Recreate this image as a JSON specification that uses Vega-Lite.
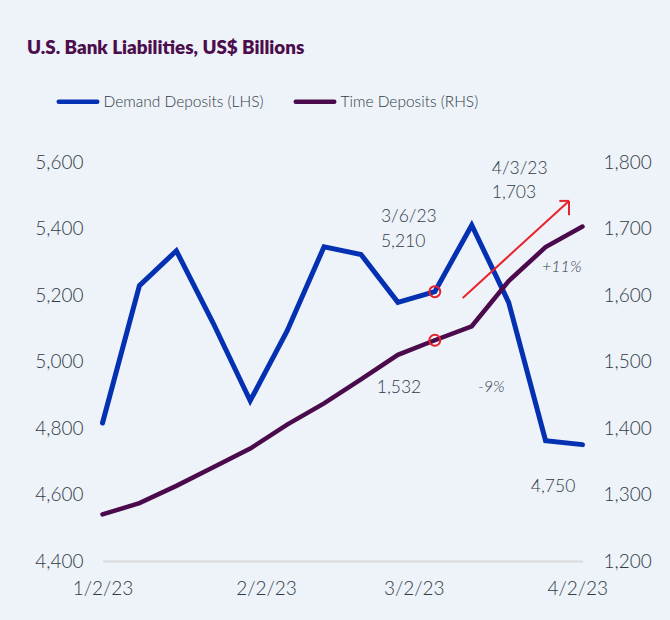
{
  "$schema": "https://vega.github.io/schema/vega-lite/v6.json",
  "width": 480,
  "height": 399,
  "autosize": {"type": "none"},
  "padding": {"left": 102.5, "top": 162, "right": 87.5, "bottom": 59},
  "background": "#EEF2F9",
  "title": {
    "text": "U.S. Bank Liabilities, US$ Billions",
    "anchor": "start",
    "frame": "group",
    "font": "Lato",
    "fontSize": 18.8,
    "fontWeight": 800,
    "color": "#4B0D4B",
    "baseline": "alphabetic",
    "dx": -75.5,
    "offset": 7
  },
  "config": {
    "view": {"stroke": null},
    "font": "Lato",
    "axis": {
      "grid": false,
      "ticks": false,
      "tickSize": 0,
      "domain": false,
      "labelFont": "Lato",
      "labelFontSize": 19,
      "labelFontWeight": 300,
      "labelColor": "#2F3B47",
      "labelFlush": false,
      "title": null
    },
    "legend": {
      "orient": "none",
      "legendX": -46,
      "legendY": -82,
      "direction": "horizontal",
      "title": null,
      "symbolType": "stroke",
      "symbolSize": 1482,
      "symbolStrokeWidth": 4.5,
      "labelFont": "Lato",
      "labelFontSize": 15.5,
      "labelFontWeight": 300,
      "labelColor": "#2F3B47",
      "labelLimit": 400,
      "labelOffset": 4,
      "columnPadding": 23,
      "padding": 0
    },
    "text": {"font": "Lato", "fontSize": 17.5, "fontWeight": 300, "color": "#2F3B47", "align": "left", "baseline": "middle"}
  },
  "datasets": {
    "demand": [
      {"date": "2023-01-02T00:00", "value": 4815, "series": "Demand Deposits (LHS)"},
      {"date": "2023-01-09T00:00", "value": 5228, "series": "Demand Deposits (LHS)"},
      {"date": "2023-01-16T00:00", "value": 5333, "series": "Demand Deposits (LHS)"},
      {"date": "2023-01-23T00:00", "value": 5115, "series": "Demand Deposits (LHS)"},
      {"date": "2023-01-30T00:00", "value": 4882, "series": "Demand Deposits (LHS)"},
      {"date": "2023-02-06T00:00", "value": 5092, "series": "Demand Deposits (LHS)"},
      {"date": "2023-02-13T00:00", "value": 5345, "series": "Demand Deposits (LHS)"},
      {"date": "2023-02-20T00:00", "value": 5322, "series": "Demand Deposits (LHS)"},
      {"date": "2023-02-27T00:00", "value": 5178, "series": "Demand Deposits (LHS)"},
      {"date": "2023-03-06T00:00", "value": 5210, "series": "Demand Deposits (LHS)"},
      {"date": "2023-03-13T00:00", "value": 5410, "series": "Demand Deposits (LHS)"},
      {"date": "2023-03-20T00:00", "value": 5178, "series": "Demand Deposits (LHS)"},
      {"date": "2023-03-27T00:00", "value": 4762, "series": "Demand Deposits (LHS)"},
      {"date": "2023-04-03T00:00", "value": 4750, "series": "Demand Deposits (LHS)"}
    ],
    "time": [
      {"date": "2023-01-02T00:00", "value": 1270, "series": "Time Deposits (RHS)"},
      {"date": "2023-01-09T00:00", "value": 1287, "series": "Time Deposits (RHS)"},
      {"date": "2023-01-16T00:00", "value": 1313, "series": "Time Deposits (RHS)"},
      {"date": "2023-01-23T00:00", "value": 1341, "series": "Time Deposits (RHS)"},
      {"date": "2023-01-30T00:00", "value": 1369, "series": "Time Deposits (RHS)"},
      {"date": "2023-02-06T00:00", "value": 1405, "series": "Time Deposits (RHS)"},
      {"date": "2023-02-13T00:00", "value": 1437, "series": "Time Deposits (RHS)"},
      {"date": "2023-02-20T00:00", "value": 1473, "series": "Time Deposits (RHS)"},
      {"date": "2023-02-27T00:00", "value": 1510, "series": "Time Deposits (RHS)"},
      {"date": "2023-03-06T00:00", "value": 1532, "series": "Time Deposits (RHS)"},
      {"date": "2023-03-13T00:00", "value": 1553, "series": "Time Deposits (RHS)"},
      {"date": "2023-03-20T00:00", "value": 1621, "series": "Time Deposits (RHS)"},
      {"date": "2023-03-27T00:00", "value": 1672, "series": "Time Deposits (RHS)"},
      {"date": "2023-04-03T00:00", "value": 1703, "series": "Time Deposits (RHS)"}
    ],
    "labels": [
      {"date": "2023-02-23T19:00", "value": 5435, "label": "3/6/23"},
      {"date": "2023-02-23T19:00", "value": 5359, "label": "5,210"},
      {"date": "2023-03-16T19:00", "value": 5578, "label": "4/3/23"},
      {"date": "2023-03-16T19:00", "value": 5506, "label": "1,703"},
      {"date": "2023-02-23T00:00", "value": 4921, "label": "1,532"},
      {"date": "2023-03-24T05:00", "value": 4623, "label": "4,750"}
    ],
    "pct": [
      {"date": "2023-03-26T08:00", "value": 5283, "label": "+11%"},
      {"date": "2023-03-14T05:00", "value": 4922, "label": "-9%"}
    ],
    "arrow": [
      {"x1": "2023-03-11T07:00", "y1": 5191, "x2": "2023-03-31T10:30", "y2": 5483},
      {"x1": "2023-03-29T14:30", "y1": 5483, "x2": "2023-03-31T10:30", "y2": 5483},
      {"x1": "2023-03-31T10:30", "y1": 5483, "x2": "2023-03-31T10:30", "y2": 5440}
    ],
    "circleL": [{"date": "2023-03-06T00:00", "value": 5210}],
    "circleR": [{"date": "2023-03-06T00:00", "value": 1532}]
  },
  "layer": [
    {
      "layer": [
        {
          "data": {"name": "demand"},
          "mark": {"type": "line", "strokeWidth": 5, "strokeCap": "round"},
          "encoding": {
            "x": {
              "field": "date", "type": "temporal", "title": null,
              "scale": {"domain": [{"year": 2023, "month": 1, "date": 2}, {"year": 2023, "month": 4, "date": 3}]},
              "axis": {
                "values": [{"year": 2023, "month": 1, "date": 2}, {"year": 2023, "month": 2, "date": 2}, {"year": 2023, "month": 3, "date": 2}, {"year": 2023, "month": 4, "date": 2}],
                "format": "%-m/%-d/%y",
                "domain": true, "domainColor": "#D9D9D9", "domainWidth": 2,
                "labelBaseline": "middle", "labelPadding": 27.5, "labelFlush": false
              }
            },
            "y": {
              "field": "value", "type": "quantitative", "title": null,
              "scale": {"domain": [4400, 5600], "nice": false, "zero": false},
              "axis": {"orient": "left", "values": [4400, 4600, 4800, 5000, 5200, 5400, 5600], "format": ",.0f", "labelPadding": 19.5}
            },
            "color": {
              "field": "series", "type": "nominal",
              "scale": {"domain": ["Demand Deposits (LHS)", "Time Deposits (RHS)"], "range": ["#0430B2", "#4A0A4C"]},
              "legend": {"encode": {"symbols": {"update": {"strokeCap": {"value": "round"}}}}}
            }
          }
        },
        {
          "data": {"name": "circleL"},
          "mark": {"type": "point", "shape": "circle", "filled": false, "size": 120, "strokeWidth": 2, "color": "#E8222B", "opacity": 1},
          "encoding": {
            "x": {"field": "date", "type": "temporal", "title": null},
            "y": {"field": "value", "type": "quantitative", "title": null}
          }
        },
        {
          "data": {"name": "arrow"},
          "mark": {"type": "rule", "strokeWidth": 2, "color": "#E8222B"},
          "encoding": {
            "x": {"field": "x1", "type": "temporal", "title": null},
            "x2": {"field": "x2"},
            "y": {"field": "y1", "type": "quantitative", "title": null},
            "y2": {"field": "y2"}
          }
        },
        {
          "data": {"name": "labels"},
          "mark": {"type": "text"},
          "encoding": {
            "x": {"field": "date", "type": "temporal", "title": null},
            "y": {"field": "value", "type": "quantitative", "title": null},
            "text": {"field": "label"}
          }
        },
        {
          "data": {"name": "pct"},
          "mark": {"type": "text", "fontStyle": "italic", "fontSize": 16},
          "encoding": {
            "x": {"field": "date", "type": "temporal", "title": null},
            "y": {"field": "value", "type": "quantitative", "title": null},
            "text": {"field": "label"}
          }
        }
      ]
    },
    {
      "layer": [
        {
          "data": {"name": "time"},
          "mark": {"type": "line", "strokeWidth": 4.5, "strokeCap": "round"},
          "encoding": {
            "x": {"field": "date", "type": "temporal", "title": null},
            "y": {
              "field": "value", "type": "quantitative", "title": null,
              "scale": {"domain": [1200, 1800], "nice": false, "zero": false},
              "axis": {"orient": "right", "values": [1200, 1300, 1400, 1500, 1600, 1700, 1800], "format": ",.0f", "labelPadding": 20.5}
            },
            "color": {"field": "series", "type": "nominal"}
          }
        },
        {
          "data": {"name": "circleR"},
          "mark": {"type": "point", "shape": "circle", "filled": false, "size": 120, "strokeWidth": 2, "color": "#E8222B", "opacity": 1},
          "encoding": {
            "x": {"field": "date", "type": "temporal", "title": null},
            "y": {"field": "value", "type": "quantitative", "title": null}
          }
        }
      ]
    }
  ],
  "resolve": {"scale": {"y": "independent"}}
}
